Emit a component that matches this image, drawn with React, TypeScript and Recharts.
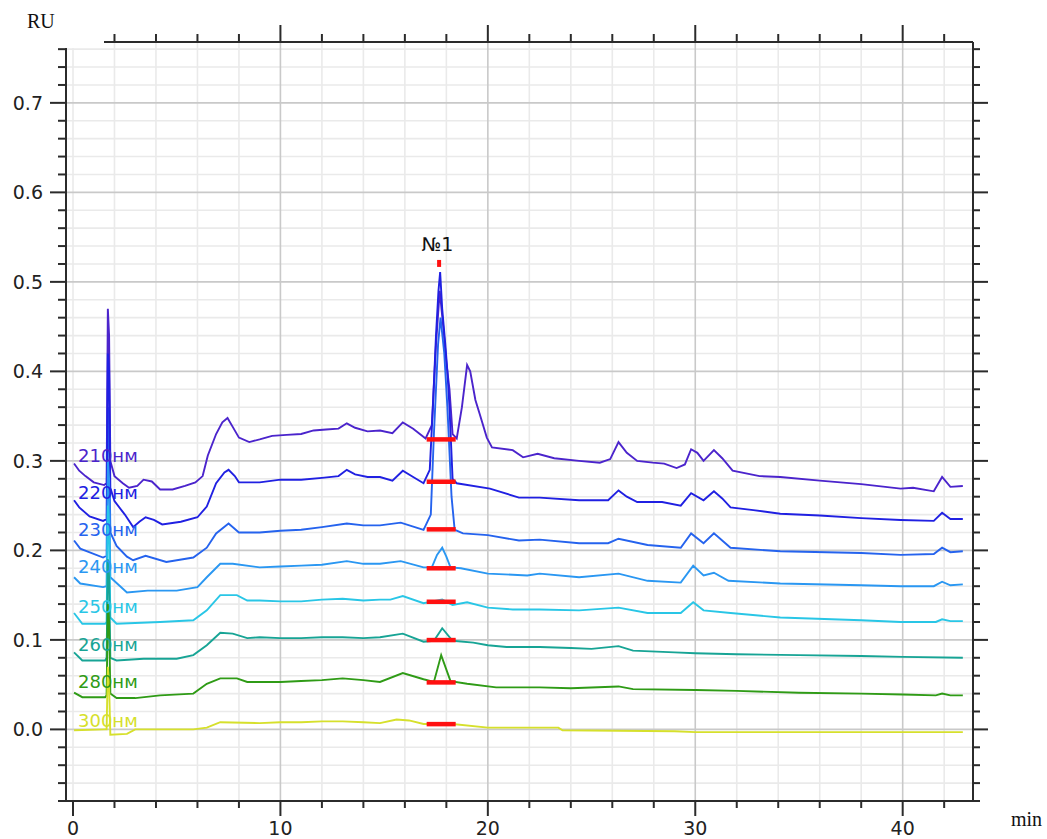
import React from 'react';
import { LineChart, Line, XAxis, YAxis, CartesianGrid, ReferenceLine, ReferenceDot } from 'recharts';

// ---- axis values ----
const xTicks = [0, 2, 4, 6, 8, 10, 12, 14, 16, 18, 20, 22, 24, 26, 28, 30, 32, 34, 36, 38, 40, 42];
const xMajor = [0, 10, 20, 30, 40];
const xMinorGrid = [0, 2, 4, 6, 8, 12, 14, 16, 18, 22, 24, 26, 28, 32, 34, 36, 38, 42];
const xMajorGrid = [10, 20, 30, 40];
const yTicks = [-0.08, -0.06, -0.04, -0.02, 0, 0.02, 0.04, 0.06, 0.08, 0.1, 0.12, 0.14, 0.16, 0.18, 0.2, 0.22, 0.24, 0.26, 0.28, 0.3, 0.32, 0.34, 0.36, 0.38, 0.4, 0.42, 0.44, 0.46, 0.48, 0.5, 0.52, 0.54, 0.56, 0.58, 0.6, 0.62, 0.64, 0.66, 0.68, 0.7, 0.72, 0.74, 0.76];
const yMajor = [0, 0.1, 0.2, 0.3, 0.4, 0.5, 0.6, 0.7];
const yMinorGrid = [-0.06, -0.04, -0.02, 0.02, 0.04, 0.06, 0.08, 0.12, 0.14, 0.16, 0.18, 0.22, 0.24, 0.26, 0.28, 0.32, 0.34, 0.36, 0.38, 0.42, 0.44, 0.46, 0.48, 0.52, 0.54, 0.56, 0.58, 0.62, 0.64, 0.66, 0.68, 0.72, 0.74, 0.76];
const yMajorGrid = [0, 0.1, 0.2, 0.3, 0.4, 0.5, 0.6, 0.7];

// ---- series (time min, RU) ----
const s210 = [[0.05,0.297],[0.3,0.289],[0.6,0.283],[1.0,0.276],[1.5,0.273],[1.62,0.275],[1.68,0.47],[1.74,0.44],[1.8,0.30],[2.0,0.283],[2.4,0.275],[2.7,0.270],[3.1,0.272],[3.4,0.279],[3.8,0.277],[4.2,0.268],[4.8,0.268],[5.4,0.272],[5.9,0.276],[6.25,0.283],[6.5,0.306],[6.9,0.330],[7.2,0.343],[7.45,0.348],[7.7,0.338],[8.0,0.326],[8.5,0.321],[9.0,0.324],[9.6,0.328],[10.3,0.329],[11.0,0.330],[11.6,0.334],[12.2,0.335],[12.8,0.336],[13.2,0.342],[13.6,0.337],[14.2,0.333],[14.8,0.334],[15.4,0.331],[15.9,0.343],[16.4,0.336],[17.0,0.325],[17.3,0.34],[17.5,0.43],[17.68,0.49],[17.85,0.45],[18.0,0.41],[18.15,0.38],[18.3,0.33],[18.5,0.325],[18.75,0.36],[19.0,0.407],[19.15,0.400],[19.4,0.368],[19.6,0.353],[19.95,0.326],[20.2,0.315],[21.2,0.312],[21.7,0.304],[22.4,0.308],[23.2,0.303],[24.4,0.300],[25.4,0.298],[25.9,0.302],[26.3,0.321],[26.7,0.309],[27.2,0.300],[27.95,0.298],[28.5,0.297],[29.1,0.292],[29.5,0.296],[29.8,0.313],[30.1,0.309],[30.4,0.300],[30.9,0.312],[31.3,0.303],[31.8,0.289],[33.1,0.283],[34.1,0.282],[36,0.278],[38,0.274],[39.9,0.269],[40.5,0.270],[41.5,0.266],[41.9,0.282],[42.3,0.271],[42.9,0.272]];
const s220 = [[0.05,0.256],[0.3,0.248],[0.8,0.238],[1.45,0.233],[1.62,0.235],[1.68,0.42],[1.74,0.40],[1.8,0.27],[2.0,0.255],[2.5,0.24],[2.9,0.226],[3.2,0.232],[3.5,0.237],[3.9,0.234],[4.3,0.229],[5.2,0.232],[6.0,0.237],[6.45,0.249],[6.9,0.275],[7.3,0.287],[7.5,0.290],[7.8,0.283],[8.0,0.276],[9.0,0.276],[10,0.279],[11,0.279],[12,0.281],[12.8,0.283],[13.2,0.290],[13.6,0.285],[14.2,0.282],[14.8,0.282],[15.4,0.278],[15.9,0.289],[16.4,0.282],[16.9,0.275],[17.2,0.29],[17.35,0.36],[17.5,0.44],[17.62,0.49],[17.7,0.511],[17.8,0.47],[17.95,0.43],[18.05,0.40],[18.15,0.36],[18.3,0.28],[18.5,0.275],[20.1,0.269],[21.5,0.259],[22.5,0.259],[24.4,0.256],[25.8,0.256],[26.3,0.267],[26.7,0.26],[27.2,0.254],[28.4,0.254],[29.3,0.25],[29.8,0.264],[30.4,0.256],[30.9,0.266],[31.3,0.258],[31.7,0.248],[32.8,0.245],[34.1,0.241],[36,0.239],[38,0.236],[39.9,0.234],[41.5,0.233],[41.9,0.242],[42.3,0.235],[42.9,0.235]];
const s230 = [[0.05,0.211],[0.35,0.202],[1.45,0.192],[1.62,0.194],[1.68,0.36],[1.74,0.34],[1.8,0.22],[2.1,0.205],[2.6,0.193],[2.9,0.189],[3.5,0.194],[4.5,0.187],[5.8,0.192],[6.45,0.203],[6.9,0.219],[7.5,0.230],[8.0,0.220],[9.0,0.220],[10,0.222],[11,0.223],[12,0.226],[13.2,0.230],[14,0.228],[14.8,0.228],[15.8,0.231],[16.9,0.223],[17.25,0.24],[17.4,0.33],[17.6,0.43],[17.72,0.46],[17.9,0.42],[18.05,0.36],[18.25,0.26],[18.4,0.223],[18.5,0.222],[18.8,0.219],[20.0,0.217],[21.5,0.211],[22.5,0.212],[24.4,0.208],[25.8,0.208],[26.3,0.213],[27.7,0.206],[29.3,0.203],[29.8,0.219],[30.4,0.208],[30.9,0.219],[31.7,0.203],[34.1,0.199],[38,0.197],[39.9,0.195],[41.5,0.196],[41.9,0.203],[42.3,0.198],[42.9,0.199]];
const s240 = [[0.05,0.170],[0.35,0.163],[1.45,0.159],[1.62,0.16],[1.68,0.30],[1.74,0.28],[1.8,0.17],[2.6,0.153],[3.6,0.155],[5.0,0.155],[6.0,0.159],[6.45,0.170],[7.1,0.185],[7.7,0.185],[9.0,0.181],[10,0.182],[11,0.183],[12,0.184],[13.2,0.188],[14,0.185],[14.8,0.185],[15.8,0.188],[16.9,0.181],[17.3,0.181],[17.55,0.195],[17.8,0.203],[18.0,0.193],[18.2,0.181],[18.7,0.180],[20.0,0.174],[21.9,0.172],[22.5,0.174],[24.4,0.170],[26.3,0.174],[27.7,0.166],[29.3,0.164],[29.9,0.183],[30.4,0.172],[30.9,0.175],[31.6,0.166],[34.1,0.163],[38,0.161],[39.9,0.160],[41.5,0.160],[41.9,0.165],[42.3,0.161],[42.9,0.162]];
const s250 = [[0.05,0.130],[0.45,0.118],[1.55,0.118],[1.62,0.12],[1.68,0.25],[1.74,0.23],[1.8,0.125],[2.1,0.118],[4.2,0.120],[5.8,0.122],[6.45,0.133],[7.1,0.150],[7.9,0.150],[8.4,0.144],[9.0,0.144],[10,0.143],[11,0.143],[12,0.145],[13,0.146],[14,0.144],[14.8,0.145],[15.3,0.145],[15.9,0.149],[16.9,0.141],[17.8,0.145],[18.3,0.139],[19.0,0.142],[20.0,0.136],[21.2,0.134],[22.5,0.134],[24.4,0.133],[26.3,0.136],[27.7,0.130],[29.3,0.130],[29.9,0.142],[30.4,0.133],[31.7,0.130],[34.1,0.125],[38,0.122],[39.9,0.120],[41.6,0.120],[41.9,0.123],[42.3,0.121],[42.9,0.121]];
const s260 = [[0.05,0.086],[0.45,0.077],[1.55,0.077],[1.62,0.08],[1.68,0.19],[1.74,0.17],[1.8,0.08],[2.1,0.077],[3.4,0.079],[5.0,0.079],[5.8,0.083],[6.45,0.094],[7.1,0.108],[7.7,0.107],[8.4,0.102],[9.0,0.103],[10,0.102],[11,0.102],[12,0.103],[13,0.103],[14,0.102],[14.8,0.103],[15.9,0.107],[16.9,0.098],[17.4,0.099],[17.8,0.113],[18.3,0.099],[19.3,0.097],[20.0,0.094],[20.9,0.092],[22.5,0.092],[24,0.091],[25,0.090],[26.3,0.093],[27,0.088],[29,0.086],[30,0.085],[32,0.084],[35,0.083],[38,0.082],[40,0.081],[42.9,0.080]];
const s280 = [[0.05,0.041],[0.45,0.036],[1.55,0.036],[1.62,0.038],[1.68,0.14],[1.74,0.12],[1.8,0.04],[2.1,0.035],[3,0.035],[4.2,0.038],[5.8,0.040],[6.45,0.051],[7.1,0.057],[7.9,0.057],[8.4,0.053],[9.0,0.053],[10,0.053],[11,0.054],[12,0.055],[13,0.057],[14,0.055],[14.8,0.053],[15.9,0.063],[16.9,0.056],[17.4,0.053],[17.75,0.083],[18.2,0.054],[19.0,0.051],[20.4,0.047],[22.5,0.047],[24,0.046],[26.3,0.048],[27,0.045],[30,0.044],[32,0.043],[35,0.041],[38,0.040],[40,0.039],[41.6,0.038],[41.9,0.040],[42.3,0.038],[42.9,0.038]];
const s300 = [[0.05,-0.001],[1.55,0.0],[1.62,0.0],[1.68,0.07],[1.74,0.05],[1.8,-0.006],[2.6,-0.005],[3.0,0.0],[5.8,0.0],[6.45,0.002],[7.1,0.008],[9.0,0.007],[10,0.008],[11,0.008],[12,0.009],[13,0.009],[14,0.008],[14.8,0.007],[15.6,0.011],[16.2,0.010],[16.9,0.006],[18.3,0.006],[20.0,0.002],[23.4,0.002],[23.6,-0.001],[29,-0.002],[30,-0.003],[42.9,-0.003]];

const seriesNames = ['210нм', '220нм', '230нм', '240нм', '250нм', '260нм', '280нм', '300нм'];
const seriesValues = [s210, s220, s230, s240, s250, s260, s280, s300];
const labelY = [0.306, 0.265, 0.223, 0.182, 0.137, 0.095, 0.053, 0.010];
const peakBaseY = [0.324, 0.2767, 0.2235, 0.180, 0.1426, 0.0998, 0.0525, 0.0059];
const peakStart = 17.05;
const peakEnd = 18.45;
const peakTime = 17.65;
const peakMarkTop = 0.5245;
const peakMarkBottom = 0.5167;
const peakName = '№1';
const peakNameX = 17.57;
const peakNameY = 0.5417;

const colors = ['#4B24CC', '#2020E2', '#2563EE', '#2A97F2', '#29C6E6', '#17A495', '#2F9B16', '#D6E02C'];
// drawing order (220 drawn over 230 so the main peak shows dark blue)
const drawOrder = [0, 2, 1, 3, 4, 5, 6, 7];

const X_DOMAIN: [number, number] = [-0.3375, 43.39];
const Y_DOMAIN: [number, number] = [-0.08, 0.768];
const AX = '#2b2b2b';
const TICK_FONT = '"DejaVu Sans", sans-serif';

const isMajorX = (v: number) => xMajor.indexOf(v) >= 0;
const isMajorY = (v: number) => yMajor.some((m) => Math.abs(m - v) < 1e-9);

const BottomTick = (p: any) => {
  const { x, y, payload } = p;
  const major = isMajorX(payload.value);
  return (
    <g>
      <line x1={x} x2={x} y1={y} y2={y + (major ? 15 : 7)} stroke={AX} strokeWidth={2} />
      {major && (
        <text x={x} y={y + 34} textAnchor="middle" fontFamily={TICK_FONT} fontSize={19} fill="#222">
          {payload.value}
        </text>
      )}
    </g>
  );
};
const TopTick = (p: any) => {
  const { x, y, payload } = p;
  const major = isMajorX(payload.value);
  return <line x1={x} x2={x} y1={y} y2={y - (major ? 17 : 8)} stroke={AX} strokeWidth={2} />;
};
const LeftTick = (p: any) => {
  const { x, y, payload } = p;
  const major = isMajorY(payload.value);
  return (
    <g>
      <line x1={x - (major ? 16 : 8)} x2={x} y1={y} y2={y} stroke={AX} strokeWidth={2} />
      {major && (
        <text x={x - 23} y={y + 7} textAnchor="end" fontFamily={TICK_FONT} fontSize={19} fill="#222">
          {Number(payload.value).toFixed(1)}
        </text>
      )}
    </g>
  );
};
const RightTick = (p: any) => {
  const { x, y, payload } = p;
  const major = isMajorY(payload.value);
  return <line x1={x} x2={x + (major ? 15 : 7)} y1={y} y2={y} stroke={AX} strokeWidth={2} />;
};

export default function App() {
  return (
    <div style={{ position: 'absolute', left: 0, top: 0, width: 1047, height: 839, background: '#fff' }}>
      <LineChart width={1047} height={839} margin={{ top: 41, right: 73, bottom: 37, left: 65 }}>
        <CartesianGrid verticalValues={xMinorGrid} horizontalValues={yMinorGrid} stroke="#EAEAEA" strokeWidth={1.6} />
        <CartesianGrid verticalValues={xMajorGrid} horizontalValues={yMajorGrid} stroke="#C9C9C9" strokeWidth={1.6} />
        <XAxis
          type="number"
          dataKey="t"
          domain={X_DOMAIN}
          allowDataOverflow
          ticks={xTicks}
          interval={0}
          height={1}
          tickSize={0}
          tickMargin={0}
          tick={<BottomTick />}
          axisLine={{ stroke: AX, strokeWidth: 2 }}
        />
        <XAxis
          xAxisId="top"
          orientation="top"
          type="number"
          dataKey="t"
          domain={X_DOMAIN}
          allowDataOverflow
          ticks={xTicks}
          interval={0}
          height={1}
          tickSize={0}
          tickMargin={0}
          tick={<TopTick />}
          axisLine={{ stroke: AX, strokeWidth: 2 }}
        />
        <YAxis
          type="number"
          domain={Y_DOMAIN}
          allowDataOverflow
          ticks={yTicks}
          interval={0}
          width={1}
          tickSize={0}
          tickMargin={0}
          tick={<LeftTick />}
          axisLine={{ stroke: AX, strokeWidth: 2 }}
        />
        <YAxis
          yAxisId="right"
          orientation="right"
          type="number"
          domain={Y_DOMAIN}
          allowDataOverflow
          ticks={yTicks}
          interval={0}
          width={1}
          tickSize={0}
          tickMargin={0}
          tick={<RightTick />}
          axisLine={{ stroke: AX, strokeWidth: 2 }}
        />
        {drawOrder.map((i) => (
          <Line
            key={seriesNames[i]}
            xAxisId={i === 7 ? 'top' : 0}
            yAxisId={i === 7 ? 'right' : 0}
            data={seriesValues[i].map(([t, v]) => ({ t, v }))}
            dataKey="v"
            type="linear"
            stroke={colors[i]}
            strokeWidth={1.9}
            dot={false}
            activeDot={false}
            isAnimationActive={false}
          />
        ))}
        {peakBaseY.map((v, i) => (
          <ReferenceLine
            key={'pb' + i}
            segment={[{ x: peakStart, y: v }, { x: peakEnd, y: v }]}
            stroke="#FF1010"
            strokeWidth={4.5}
            zIndex={1500}
          />
        ))}
        <ReferenceLine
          segment={[{ x: peakTime, y: peakMarkBottom }, { x: peakTime, y: peakMarkTop }]}
          stroke="#FF1010"
          strokeWidth={4}
          zIndex={1500}
        />
        <ReferenceDot
          x={peakNameX}
          y={peakNameY}
          r={0}
          stroke="none"
          fill="none"
          label={{ value: peakName, position: 'center', fill: '#111', fontSize: 19, fontFamily: TICK_FONT }}
        />
        {seriesNames.map((name, i) => (
          <ReferenceDot
            key={'lbl' + i}
            x={0}
            y={labelY[i]}
            r={0}
            stroke="none"
            fill="none"
            label={{ value: name, position: 'right', offset: 5, fill: colors[i], fontSize: 18, fontFamily: TICK_FONT }}
          />
        ))}
      </LineChart>
      <div style={{ position: 'absolute', left: 0, top: 0, width: 104, height: 48, background: '#fff' }}>
        <span style={{ position: 'absolute', left: 27, top: 11, fontFamily: '"Liberation Serif", serif', fontSize: 20, lineHeight: '20px', color: '#111' }}>RU</span>
      </div>
      <span style={{ position: 'absolute', left: 1011, top: 809, fontFamily: '"Liberation Serif", serif', fontSize: 20, lineHeight: '20px', color: '#111' }}>min</span>
    </div>
  );
}
